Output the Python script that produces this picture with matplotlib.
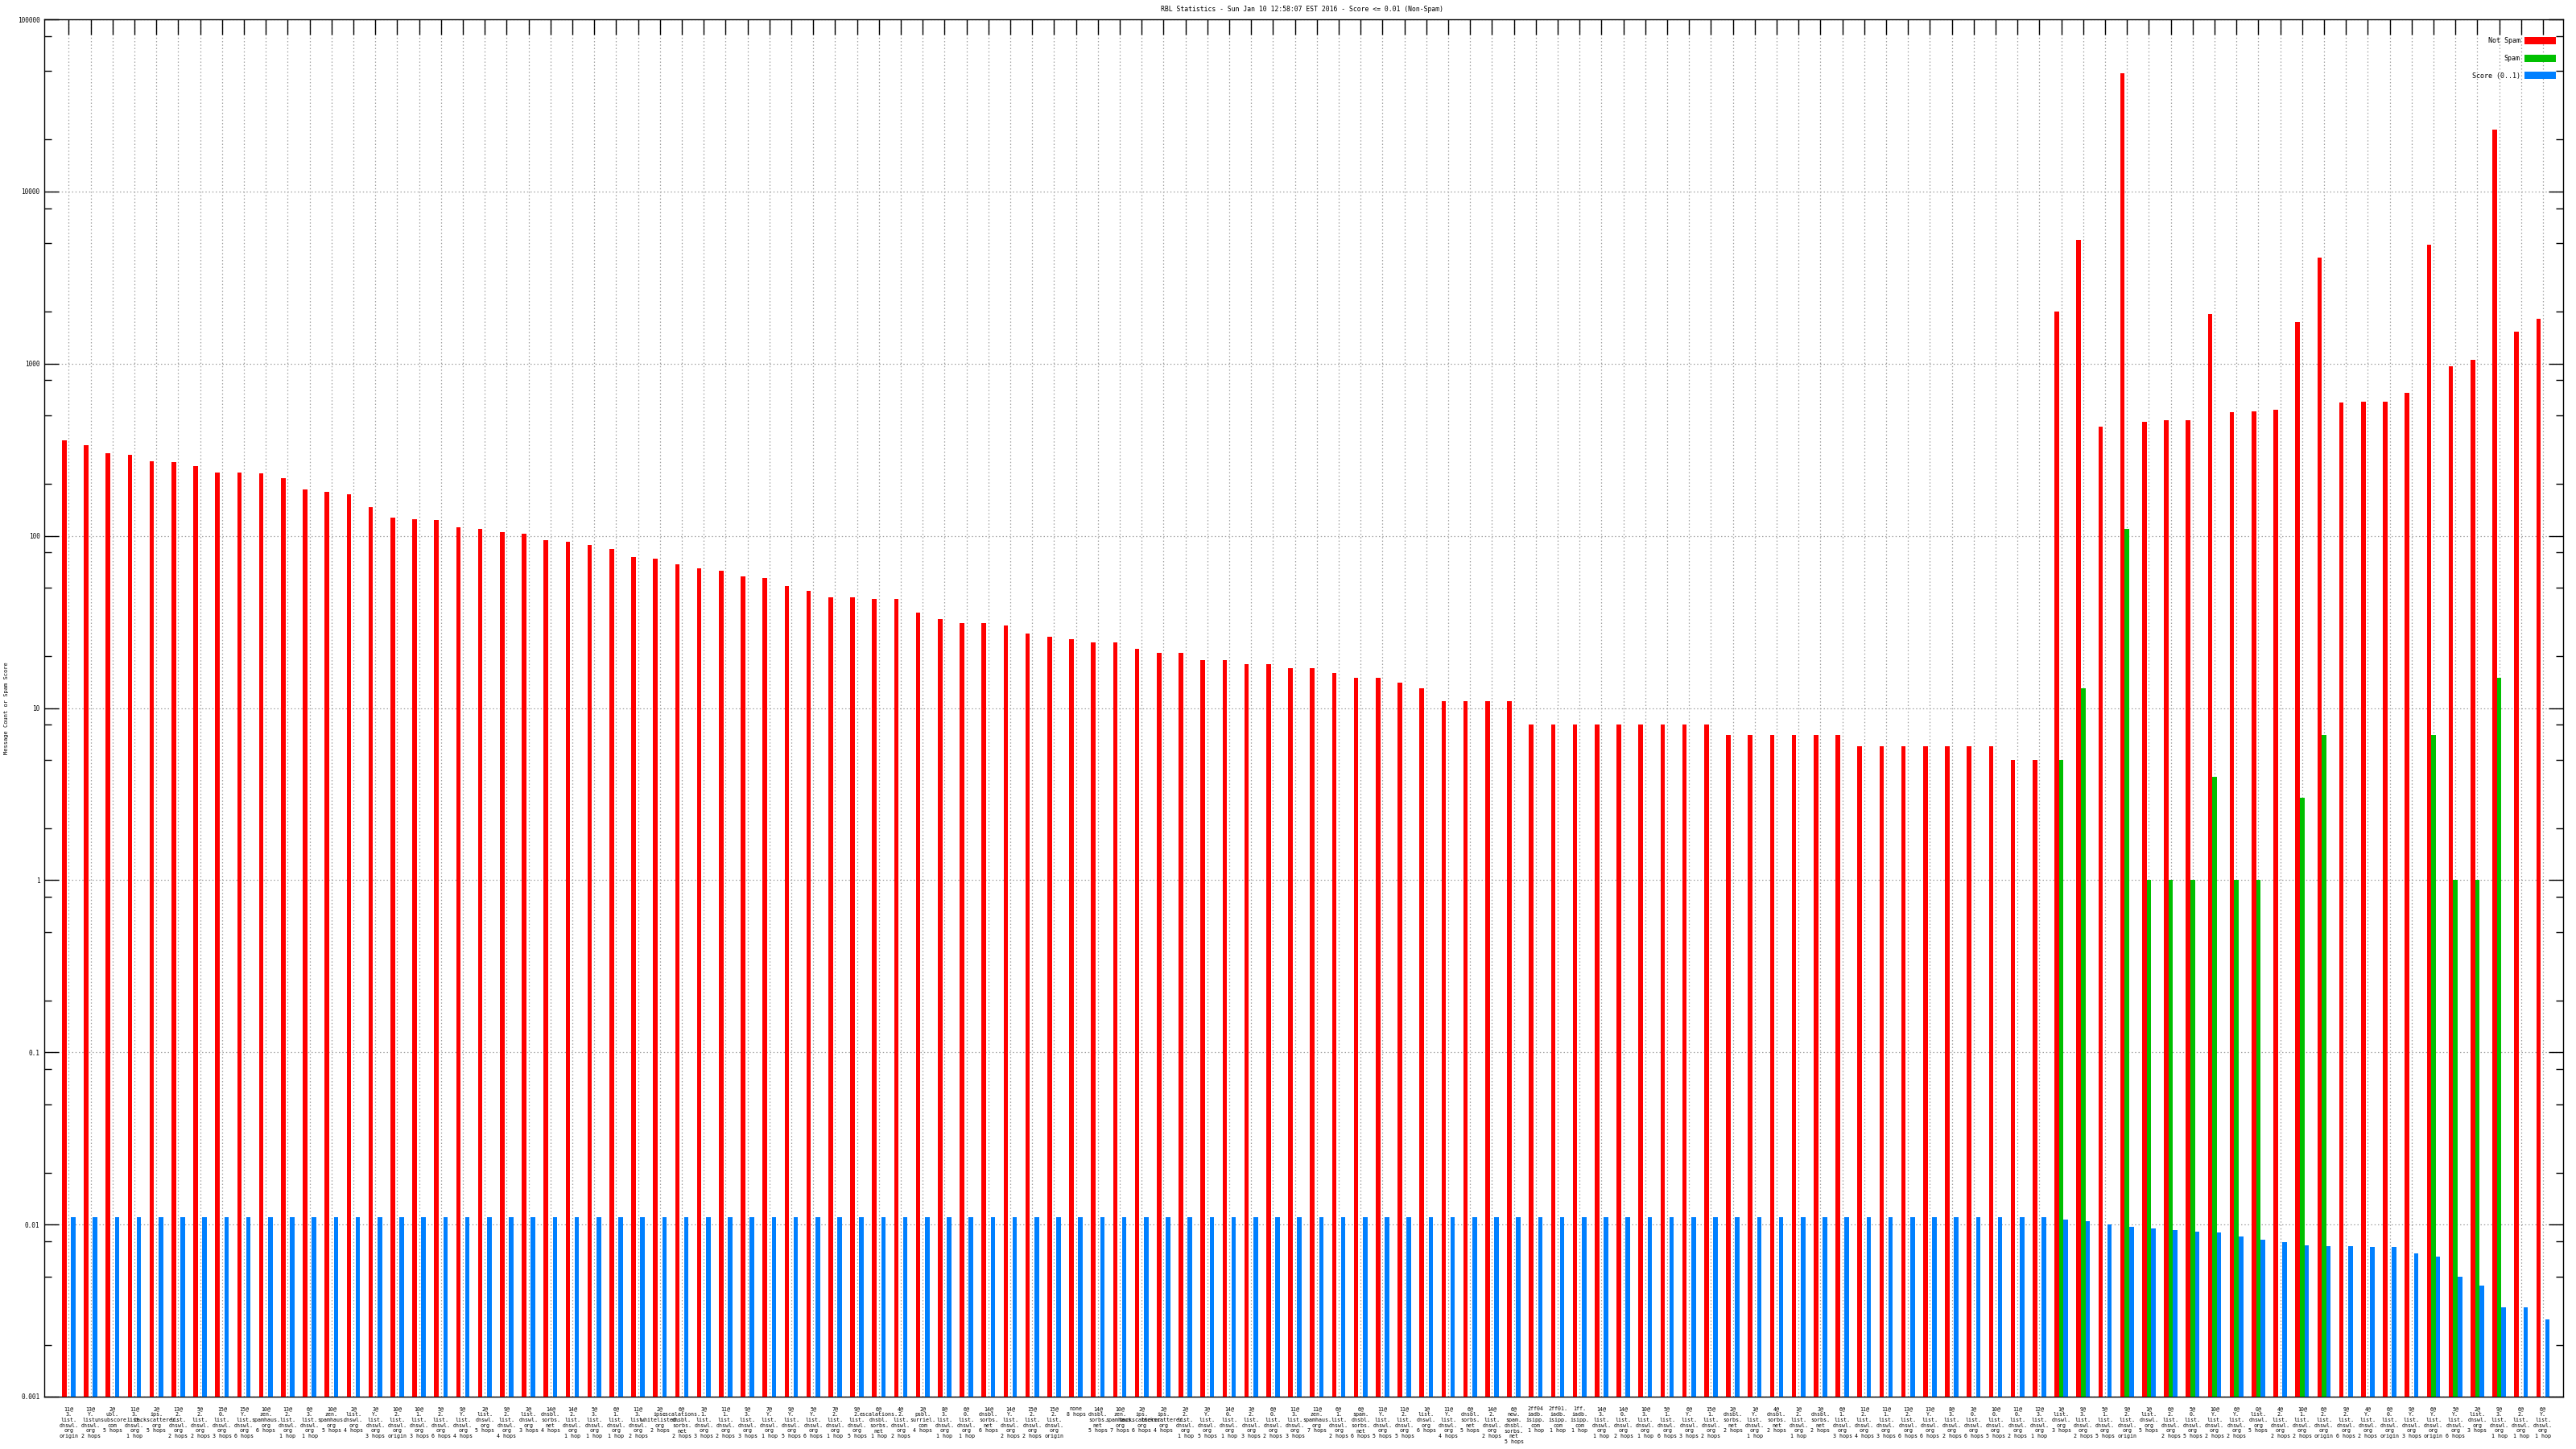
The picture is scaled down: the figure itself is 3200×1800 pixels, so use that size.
import matplotlib
matplotlib.use('Agg')
import matplotlib.pyplot as plt
import numpy as np
from matplotlib.ticker import FixedLocator, LogLocator, NullFormatter, FuncFormatter

# --- data ---
hosts = [
    "11@3.list.dnswl.org", "13@Y.list.dnswl.org", "2@ubl.unsubscore.com", "11@3.list.dnswl.org",
    "2@ips.backscatterer.org", "13@2.list.dnswl.org", "5@2.list.dnswl.org", "15@0.list.dnswl.org",
    "15@Y.list.dnswl.org", "10@zen.spamhaus.org", "13@2.list.dnswl.org", "6@3.list.dnswl.org",
    "10@zen.spamhaus.org", "2@list.dnswl.org", "3@Y.list.dnswl.org", "10@2.list.dnswl.org",
    "10@1.list.dnswl.org", "5@2.list.dnswl.org", "9@Y.list.dnswl.org", "2@list.dnswl.org",
    "9@2.list.dnswl.org", "3@list.dnswl.org", "14@dnsbl.sorbs.net", "14@2.list.dnswl.org",
    "5@3.list.dnswl.org", "6@1.list.dnswl.org", "11@3.list.dnswl.org", "2@ips.whitelisted.org",
    "6@escalations.dnsbl.sorbs.net", "3@1.list.dnswl.org", "11@1.list.dnswl.org", "9@3.list.dnswl.org",
    "7@Y.list.dnswl.org", "9@Y.list.dnswl.org", "5@Y.list.dnswl.org", "7@2.list.dnswl.org",
    "9@2.list.dnswl.org", "6@escalations.dnsbl.sorbs.net", "4@2.list.dnswl.org", "2@psbl.surriel.com",
    "8@3.list.dnswl.org", "6@0.list.dnswl.org", "14@dnsbl.sorbs.net", "14@Y.list.dnswl.org",
    "15@2.list.dnswl.org", "15@2.list.dnswl.org", "none", "14@dnsbl.sorbs.net",
    "10@zen.spamhaus.org", "2@ips.backscatterer.org", "2@ips.backscatterer.org", "2@2.list.dnswl.org",
    "3@Y.list.dnswl.org", "14@0.list.dnswl.org", "3@2.list.dnswl.org", "6@0.list.dnswl.org",
    "11@3.list.dnswl.org", "11@zen.spamhaus.org", "6@1.list.dnswl.org", "6@spam.dnsbl.sorbs.net",
    "11@Y.list.dnswl.org", "11@2.list.dnswl.org", "1@list.dnswl.org", "11@Y.list.dnswl.org",
    "6@dnsbl.sorbs.net", "14@2.list.dnswl.org", "6@new.spam.dnsbl.sorbs.net", "2ff04 iadb.isipp.com",
    "2ff01.iadb.isipp.com", "1ff.iadb.isipp.com", "14@3.list.dnswl.org", "14@0.list.dnswl.org",
    "10@3.list.dnswl.org", "5@1.list.dnswl.org", "6@Y.list.dnswl.org", "15@1.list.dnswl.org",
    "2@dnsbl.sorbs.net", "1@Y.list.dnswl.org", "4@dnsbl.sorbs.net", "1@2.list.dnswl.org",
    "3@dnsbl.sorbs.net", "6@1.list.dnswl.org", "11@2.list.dnswl.org", "11@1.list.dnswl.org",
    "13@2.list.dnswl.org", "13@Y.list.dnswl.org", "8@3.list.dnswl.org", "3@0.list.dnswl.org",
    "10@0.list.dnswl.org", "11@0.list.dnswl.org", "12@3.list.dnswl.org", "1@list.dnswl.org",
    "9@3.list.dnswl.org", "5@1.list.dnswl.org", "9@2.list.dnswl.org", "1@list.dnswl.org",
    "6@2.list.dnswl.org", "5@0.list.dnswl.org", "10@Y.list.dnswl.org", "6@Y.list.dnswl.org",
    "0@list.dnswl.org", "4@2.list.dnswl.org", "10@1.list.dnswl.org", "6@2.list.dnswl.org",
    "9@2.list.dnswl.org", "4@Y.list.dnswl.org", "6@0.list.dnswl.org", "9@Y.list.dnswl.org",
    "6@Y.list.dnswl.org", "5@Y.list.dnswl.org", "2@list.dnswl.org", "9@3.list.dnswl.org",
    "6@2.list.dnswl.org", "6@Y.list.dnswl.org",
]

# hops from the reporting host, 0 = origin
hops = [
    0, 2, 5, 1, 5, 2, 2, 3, 6, 6, 1, 1, 5, 4, 3, 0, 3, 6, 4, 5,
    4, 3, 4, 1, 1, 1, 2, 2, 2, 3, 2, 3, 1, 5, 6, 1, 5, 1, 2, 4,
    1, 1, 6, 2, 2, 0, 8, 5, 7, 6, 4, 1, 5, 1, 3, 2, 3, 7, 2, 6,
    5, 5, 6, 4, 5, 2, 5, 1, 1, 1, 1, 2, 1, 6, 3, 2, 2, 1, 2, 1,
    2, 3, 4, 3, 6, 6, 2, 6, 5, 2, 1, 3, 2, 5, 0, 5, 2, 5, 2, 2,
    5, 2, 2, 0, 6, 2, 0, 3, 0, 6, 3, 1, 1, 1,
]

not_spam = [
    360, 336, 302, 297, 272, 268, 253, 232, 232, 230, 217, 186, 180, 174, 146, 128,
    125, 123, 112, 110, 105, 103, 94, 92, 88, 84, 75, 74, 68, 65, 63, 58,
    57, 51, 48, 44, 44, 43, 43, 36, 33, 31, 31, 30, 27, 26, 25, 24,
    24, 22, 21, 21, 19, 19, 18, 18, 17, 17, 16, 15, 15, 14, 13, 11,
    11, 11, 11, 8, 8, 8, 8, 8, 8, 8, 8, 8, 7, 7, 7, 7,
    7, 7, 6, 6, 6, 6, 6, 6, 6, 5, 5, 2000, 5260, 430, 48400, 458,
    470, 470, 1950, 522, 530, 540, 1750, 4130, 597, 600, 600, 680, 4920, 970,
    1057, 22900, 1535, 1830,
]

spam = [0] * 91 + [
    5, 13, 0, 110, 1, 1, 1, 4, 1, 1, 0, 3, 7, 0, 0, 0,
    0, 7, 1, 1, 15, 0, 0,
]

score = [0.01] * 91 + [
    0.0097, 0.0095, 0.009, 0.0087, 0.0085, 0.0083, 0.0081, 0.008, 0.0075, 0.0072,
    0.0069, 0.0066, 0.0065, 0.0065, 0.0064, 0.0064, 0.0058, 0.0055, 0.004, 0.0034,
    0.0023, 0.0023, 0.0018,
]

TITLE = 'RBL Statistics - Sun Jan 10 12:58:07 EST 2016 - Score <= 0.01 (Non-Spam)'
YLABEL = 'Message Count or Spam Score'
FONT = 'DejaVu Sans Mono'
RED, GREEN, BLUE = '#ff0000', '#00c000', '#0080ff'


def make_label(host, hop):
    txt = host.replace('@', '@\n').replace('.', '.\n').replace(' ', '\n')
    if hop == 0:
        h = 'origin'
    elif hop == 1:
        h = '1 hop'
    else:
        h = '{} hops'.format(hop)
    return txt + '\n' + h


labels = [make_label(h, n) for h, n in zip(hosts, hops)]
x = np.arange(len(not_spam))
w = 0.205

plt.rcParams['font.family'] = [FONT]
fig = plt.figure(figsize=(32, 18), dpi=100)
ax = fig.add_axes([55 / 3200, 1 - 1735 / 1800, 3129 / 3200, 1711 / 1800])

ax.bar(x - w, not_spam, w, bottom=1e-3, color=RED, label='Not Spam', zorder=3)
ax.bar(x, spam, w, bottom=1e-3, color=GREEN, label='Spam', zorder=3)
ax.bar(x + w, score, w, bottom=1e-3, color=BLUE, label='Score (0..1)', zorder=3)

ax.set_yscale('log')
ax.set_ylim(1e-3, 1e5)
ax.set_xlim(-1.12, len(x) - 1 + 0.92)

ax.yaxis.set_major_locator(FixedLocator([10.0 ** k for k in range(-3, 6)]))
ax.yaxis.set_major_formatter(FuncFormatter(lambda v, p: '%g' % v))
ax.yaxis.set_minor_locator(LogLocator(base=10, subs=(2, 5, 8), numticks=50))
ax.yaxis.set_minor_formatter(NullFormatter())

ax.set_xticks(x)
ax.set_xticklabels(labels, fontsize=4.8, linespacing=1.15, va='top')

ax.tick_params(axis='y', which='major', direction='in', length=13, width=1,
               left=True, right=True, labelsize=5.6, pad=4)
ax.tick_params(axis='y', which='minor', direction='in', length=6.5, width=1,
               left=True, right=True)
ax.tick_params(axis='x', which='major', direction='in', length=13.7, width=1,
               top=True, bottom=False, labelbottom=True, pad=9)

ax.grid(True, which='major', axis='both', color='#a0a0a0', ls=(0, (1.2, 2.2)), lw=0.9)
ax.set_axisbelow(True)
for s in ax.spines.values():
    s.set_linewidth(1.0)

fig.text(0.5055, 1 - 11 / 1800, TITLE, ha='center', va='center', fontsize=5.9)
fig.text(8 / 3200, 1 - 880 / 1800, YLABEL, ha='center', va='center',
         rotation=90, fontsize=5.0)

ax.legend(loc='upper right', bbox_to_anchor=(3175 / 3200, 1 - 46 / 1800),
          bbox_transform=fig.transFigure, frameon=False, markerfirst=False,
          fontsize=6, handlelength=4.7, handleheight=1.35, handletextpad=0.6,
          labelspacing=1.45, borderpad=0, borderaxespad=0)

fig.savefig('out.png', dpi=100)
